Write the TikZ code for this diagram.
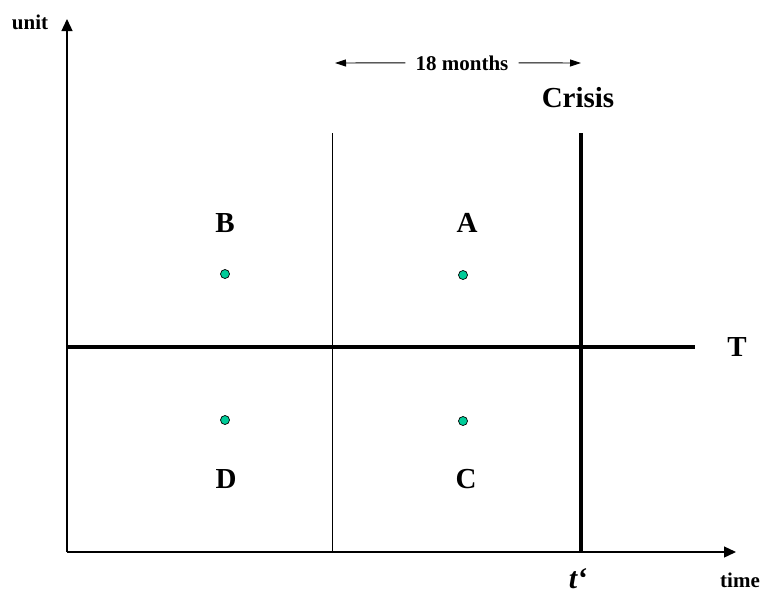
\documentclass[tikz,border=0pt]{standalone}
\usepackage{fontspec}
\setmainfont{Liberation Serif}
\usetikzlibrary{arrows.meta}
\definecolor{dotgreen}{RGB}{0,204,153}
\begin{document}
\begin{tikzpicture}[x=1pt,y=-1pt,
  small/.style={font=\fontsize{21}{21}\selectfont\bfseries, anchor=base, inner sep=0pt},
  big/.style={font=\fontsize{29}{29}\selectfont\bfseries, anchor=base, inner sep=0pt},
  axis/.style={line width=1.3pt, -{Triangle[length=12pt,width=11pt]}},
  thickline/.style={line width=3.5pt},
  thinline/.style={line width=0.9pt},
  dotpt/.style={circle, draw=black, fill=dotgreen, line width=0.7pt, minimum size=9pt, inner sep=0pt},
  span/.style={line width=0.9pt, -{Triangle[length=11pt,width=7pt]}}]
\useasboundingbox (0,0) rectangle (763,595);
% axes
\coordinate (O) at (67,552);
\coordinate (ytip) at (67,19);
\coordinate (xtip) at (736,552);
\draw[axis] (O) -- (ytip);
\draw[axis] (O) -- (xtip);
% dividing lines
\coordinate (thinTop) at (332,133);
\coordinate (thinBot) at (332,552);
\draw[thinline] (thinTop) -- (thinBot);
\coordinate (crTop) at (581,133);
\coordinate (crBot) at (581,552);
\draw[thickline] (crTop) -- (crBot);
\coordinate (tLeft) at (67,347);
\coordinate (tRight) at (695,347);
\draw[thickline] (tLeft) -- (tRight);
% labels
\node[small] (unit) at (30,29) {unit};
\node[small] (time) at (740,587) {time};
\node[small] (months) at (462,70) {18 months};
\coordinate (mL) at (335,63);
\coordinate (mR) at (581,63);
\draw[span] ([xshift=-10pt]months.west) -- (mL);
\draw[span] ([xshift=10pt]months.east) -- (mR);
\node[big] (crisis) at (578,107) {Crisis};
\node[big] (B) at (225,232) {B};
\node[big] (A) at (467,232) {A};
\node[big] (D) at (226,488) {D};
\node[big] (C) at (466,488) {C};
\node[big] (T) at (737,356) {T};
\node[font=\fontsize{30}{30}\selectfont\bfseries\itshape, anchor=base, inner sep=0pt] (tp) at (578,588) {t‘};
% points
\node[dotpt] (pB) at (225,274) {};
\node[dotpt] (pA) at (463,275) {};
\node[dotpt] (pD) at (225,420) {};
\node[dotpt] (pC) at (463,421) {};
\end{tikzpicture}
\end{document}
